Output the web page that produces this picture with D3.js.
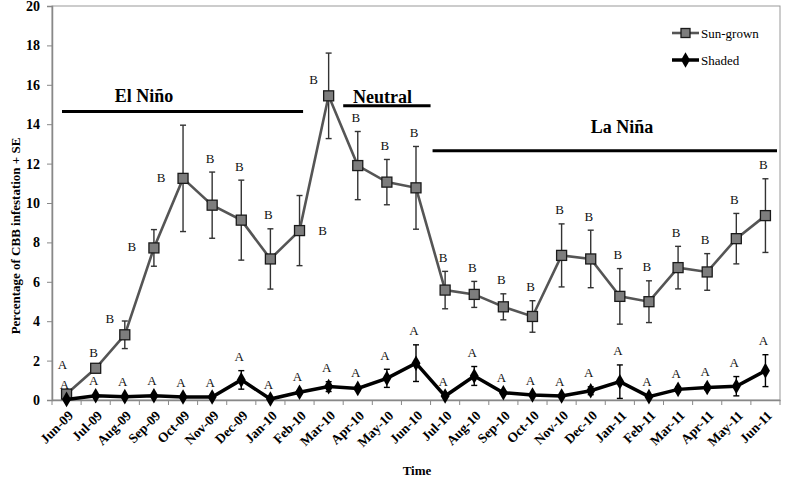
<!DOCTYPE html>
<html><head><meta charset="utf-8">
<script src="https://cdn.jsdelivr.net/npm/d3@7"></script>
<style>body{margin:0;background:#fff}svg{display:block}</style>
</head><body>
<svg id="c" width="786" height="481"></svg>
<script>
// ---- data ----
const months = ["Jun-09","Jul-09","Aug-09","Sep-09","Oct-09","Nov-09","Dec-09","Jan-10","Feb-10","Mar-10","Apr-10","May-10","Jun-10","Jul-10","Aug-10","Sep-10","Oct-10","Nov-10","Dec-10","Jan-11","Feb-11","Mar-11","Apr-11","May-11","Jun-11"];
const sunValues = [0.3,1.61,3.31,7.72,11.25,9.89,9.13,7.16,8.6,15.44,11.9,11.06,10.77,5.58,5.36,4.73,4.24,7.34,7.16,5.26,4.99,6.72,6.5,8.19,9.36];
const sunSE = [0.15,0.1,0.7,0.93,2.7,1.68,2.03,1.53,1.78,2.17,1.73,1.15,2.1,0.95,0.66,0.66,0.8,1.6,1.46,1.41,1.06,1.08,0.93,1.28,1.87];
const shadeValues = [0.03,0.22,0.17,0.22,0.15,0.15,1.02,0.05,0.39,0.68,0.59,1.1,1.87,0.2,1.22,0.37,0.25,0.2,0.47,0.93,0.17,0.54,0.63,0.7,1.49];
const shadeSE = [0.03,0.05,0.05,0.05,0.04,0.04,0.47,0.03,0.08,0.25,0.1,0.46,0.93,0.05,0.48,0.08,0.05,0.05,0.2,0.85,0.05,0.12,0.12,0.49,0.81];
const sunLetters = ["A","B","B","B","B","B","B","B","B","B","B","B","B","B","B","B","B","B","B","B","B","B","B","B","B"];
const shadeLetters = months.map(() => "A");
const yTicks = [0,2,4,6,8,10,12,14,16,18,20];
const seriesNames = ["Sun-grown","Shaded"];
const periodNames = ["El Niño","Neutral","La Niña"];
const periodStart = ["Jun-09","Apr-10","Jul-10"];
const periodEnd = ["Feb-10","Jun-10","Jun-11"];
const periodLevel = [14.65,14.94,12.65];
const periodLabelLevel = [15.15,15.1,13.55];

// ---- layout ----
const L = 52, R = 780, T = 6, B = 400;
const serif = "'Liberation Serif','Times New Roman',serif";
const sunLabelSide = months.map((m,i) => ({0:"high",2:"upleft",3:"left",4:"left",8:"right",9:"upleft"})[i] || "top");
const periodInset = [[10,11],[0,0],[2,3]];
const periodLabelFrac = [0.34,0.45,0.55];

const svg = d3.select("#c");
const x = d3.scaleBand().domain(months).range([L,R]).padding(0);
const bw = x.bandwidth();
const cx = m => x(m) + bw/2;
const y = d3.scaleLinear().domain([0,20]).range([B,T]);

// plot border
svg.append("rect").attr("x",L).attr("y",T).attr("width",R-L).attr("height",B-T)
  .attr("fill","none").attr("stroke","#999").attr("stroke-width",1);

// y axis
const ya = svg.append("g").attr("transform",`translate(${L},0)`)
  .call(d3.axisLeft(y).tickValues(yTicks).tickSize(5).tickPadding(7));
ya.select(".domain").attr("stroke","#888").attr("stroke-width",1.5);
ya.selectAll(".tick line").attr("stroke","#888");
ya.selectAll("text").attr("font-family",serif).attr("font-weight","bold").attr("font-size",14).attr("fill","#000");

// x axis
const xa = svg.append("g").attr("transform",`translate(0,${B})`)
  .call(d3.axisBottom(x).tickSize(0).tickPadding(0));
xa.select(".domain").attr("stroke","#888").attr("stroke-width",1.5);
xa.selectAll(".tick text").attr("font-family",serif).attr("font-weight","bold").attr("font-size",13.5).attr("fill","#000")
  .attr("text-anchor","end").attr("dy","0.35em")
  .attr("transform",`translate(4,13) rotate(-45)`);
xa.selectAll(".bnd").data(months.concat(["_end"])).enter().append("line").attr("class","bnd")
  .attr("x1",(d,i)=> i<months.length ? x(d) : R).attr("x2",(d,i)=> i<months.length ? x(d) : R)
  .attr("y1",0).attr("y2",5).attr("stroke","#888");

// axis titles
svg.append("text").attr("transform","translate(20,236) rotate(-90)").attr("text-anchor","middle")
  .attr("font-family",serif).attr("font-weight","bold").attr("font-size",13).text("Percentage of CBB infestation + SE");
svg.append("text").attr("x",417).attr("y",475).attr("text-anchor","middle")
  .attr("font-family",serif).attr("font-weight","bold").attr("font-size",13).text("Time");

// period annotations
periodNames.forEach((name,i) => {
  const x1 = x(periodStart[i]) + periodInset[i][0];
  const x2 = x(periodEnd[i]) + bw - periodInset[i][1];
  svg.append("line").attr("x1",x1).attr("x2",x2).attr("y1",y(periodLevel[i])).attr("y2",y(periodLevel[i]))
    .attr("stroke","#000").attr("stroke-width",3);
  svg.append("text").attr("x",x1+(x2-x1)*periodLabelFrac[i]).attr("y",y(periodLabelLevel[i]))
    .attr("text-anchor","middle").attr("font-family",serif).attr("font-weight","bold").attr("font-size",18).text(name);
});

function errorBars(vals, se, color){
  const g = svg.append("g").attr("stroke",color).attr("stroke-width",1.4).attr("fill","none");
  months.forEach((m,i)=>{
    const c = cx(m), t = y(vals[i]+se[i]), b = y(Math.max(0,vals[i]-se[i]));
    g.append("line").attr("x1",c).attr("x2",c).attr("y1",t).attr("y2",b);
    g.append("line").attr("x1",c-3).attr("x2",c+3).attr("y1",t).attr("y2",t);
    g.append("line").attr("x1",c-3).attr("x2",c+3).attr("y1",b).attr("y2",b);
  });
}
const line = d3.line().x((d,i)=>cx(months[i])).y(d=>y(d));

// sun-grown
errorBars(sunValues, sunSE, "#333");
svg.append("path").datum(sunValues).attr("d",line).attr("fill","none").attr("stroke","#555").attr("stroke-width",2.6);
svg.selectAll(".sq").data(sunValues).enter().append("rect").attr("class","sq")
  .attr("x",(d,i)=>cx(months[i])-5).attr("y",d=>y(d)-5).attr("width",10).attr("height",10)
  .attr("fill","#7d7d7d").attr("stroke","#1a1a1a").attr("stroke-width",1.3);

// shaded
errorBars(shadeValues, shadeSE, "#000");
svg.append("path").datum(shadeValues).attr("d",line).attr("fill","none").attr("stroke","#000").attr("stroke-width",3.5);
const diamond = d3.symbol().type(d3.symbolDiamond).size(70);
svg.selectAll(".dm").data(shadeValues).enter().append("path").attr("class","dm")
  .attr("transform",(d,i)=>`translate(${cx(months[i])},${y(d)})`).attr("d",diamond).attr("fill","#000");

// letters
const lg = svg.append("g").attr("font-family",serif).attr("font-size",13).attr("fill","#111").attr("text-anchor","middle");
sunLetters.forEach((t,i)=>{
  const c = cx(months[i]); let px = c-2, py = y(sunValues[i]+sunSE[i]) - 14;
  const s = sunLabelSide[i];
  if (s==="left"){ px = c-22; py = y(sunValues[i]) - 1; }
  else if (s==="upleft"){ px = c-15; py = y(sunValues[i]) - 16; }
  else if (s==="right"){ px = c+23; py = y(sunValues[i]); }
  else if (s==="high"){ px = c-4; py = y(sunValues[i]) - 30; }
  lg.append("text").attr("x",px).attr("y",py).attr("dy","0.35em").text(t);
});
shadeLetters.forEach((t,i)=>{
  const c = cx(months[i]);
  lg.append("text").attr("x",c-2).attr("y",y(shadeValues[i]+shadeSE[i]) - 14).attr("dy","0.35em").text(t);
});

// legend
const leg = svg.append("g");
[0,1].forEach(k=>{
  const ly = k===0 ? 33 : 60;
  leg.append("line").attr("x1",672).attr("x2",699).attr("y1",ly).attr("y2",ly)
    .attr("stroke", k===0 ? "#555" : "#000").attr("stroke-width", k===0 ? 2.6 : 3.5);
  if (k===0) leg.append("rect").attr("x",681).attr("y",ly-4.5).attr("width",9).attr("height",9)
    .attr("fill","#7d7d7d").attr("stroke","#1a1a1a").attr("stroke-width",1.3);
  else leg.append("path").attr("transform",`translate(685.5,${ly})`).attr("d",diamond).attr("fill","#000");
  leg.append("text").attr("x",701).attr("y",ly).attr("dy","0.35em").attr("font-family",serif).attr("font-size",13).text(seriesNames[k]);
});
</script>
</body></html>
